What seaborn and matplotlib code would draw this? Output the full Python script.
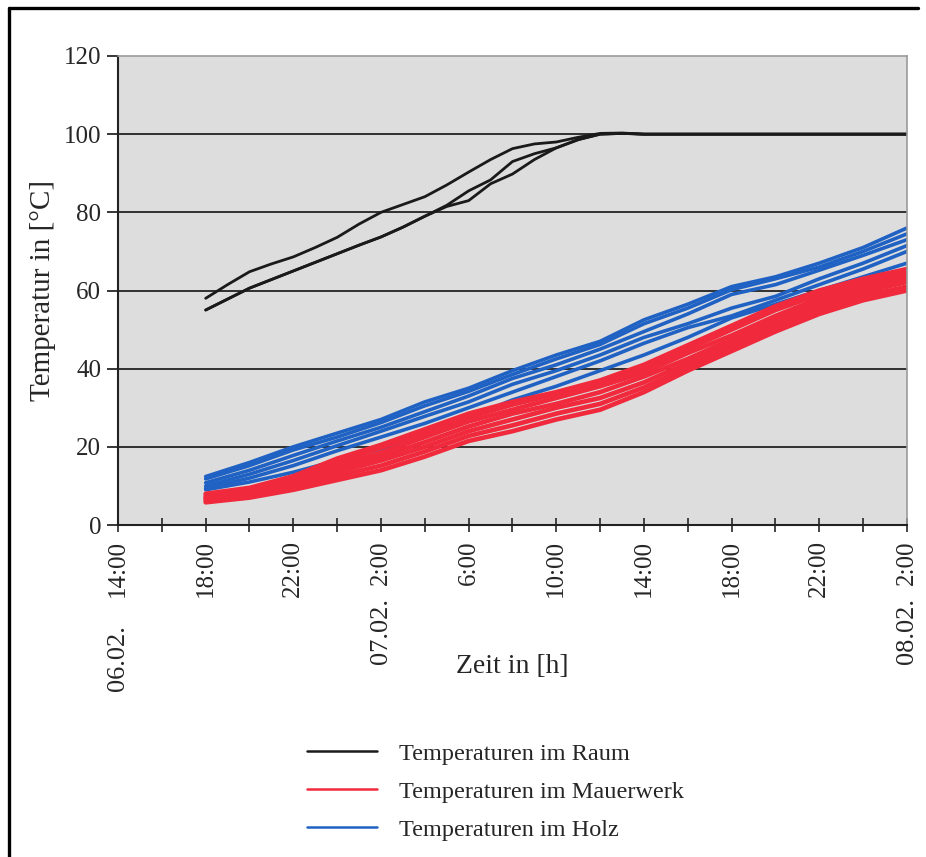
import pandas as pd
import numpy as np
import matplotlib
matplotlib.use('Agg')
import matplotlib.pyplot as plt
import matplotlib.transforms as mtransforms
from matplotlib.lines import Line2D
import seaborn as sns

# ZEITACHSE: Stunden ab 06.02. 14:00
zeit_raum = list(range(4, 37))          # stuendlich, 18:00 bis 2:00
zeit_bauteil = list(range(4, 37, 2))    # alle 2 Stunden

# TEMPERATUREN IM RAUM (3 Messstellen)
raum_1 = [58, 61.5, 64.8, 66.8, 68.6, 71, 73.6, 77, 80, 82, 84, 87, 90.3, 93.5, 96.3, 97.5,
          98, 99.2, 100.2, 100.3, 100, 100, 100, 100, 100, 100, 100, 100, 100, 100, 100, 100, 100]
raum_2 = [55, 57.8, 60.6, 62.8, 65, 67.2, 69.4, 71.6, 73.7, 76.2, 79, 81.8, 85.5, 88.3, 93, 95,
          96.5, 98.6, 100, 100.2, 100, 100, 100, 100, 100, 100, 100, 100, 100, 100, 100, 100, 100]
raum_3 = [55, 57.8, 60.6, 62.8, 65, 67.2, 69.4, 71.6, 73.7, 76.2, 79, 81.5, 83, 87.3, 89.8, 93.5,
          96.5, 98.6, 100, 100.2, 100, 100, 100, 100, 100, 100, 100, 100, 100, 100, 100, 100, 100]

# TEMPERATUREN IM MAUERWERK
mauer_1 = [8.0, 9.5, 12.5, 17.0, 20.5, 24.5, 28.5, 31.5, 34.0, 37.0, 41.0, 46.0, 51.0, 56.0, 60.0, 63.0, 65.5]
mauer_2 = [7.6, 9.2, 12.0, 16.0, 19.8, 23.5, 27.5, 30.8, 33.5, 36.5, 40.0, 45.0, 50.0, 55.0, 59.0, 62.2, 64.8]
mauer_3 = [7.2, 8.8, 11.5, 15.2, 18.5, 22.5, 26.5, 29.5, 32.5, 35.5, 39.0, 44.0, 48.5, 53.5, 58.0, 61.5, 64.0]
mauer_4 = [6.9, 8.4, 11.0, 14.2, 17.5, 21.2, 25.2, 28.5, 31.0, 34.0, 38.0, 42.5, 47.5, 52.5, 57.0, 60.5, 63.2]
mauer_5 = [6.6, 8.0, 10.4, 13.5, 16.5, 20.0, 24.0, 27.0, 30.0, 32.5, 36.5, 41.5, 46.5, 51.5, 56.0, 59.5, 62.2]
mauer_6 = [6.2, 7.5, 9.8, 12.5, 15.2, 18.8, 22.8, 25.5, 28.5, 31.0, 35.2, 40.5, 45.5, 50.5, 55.0, 58.5, 61.0]
mauer_7 = [5.8, 7.0, 9.0, 11.5, 14.0, 17.5, 21.5, 24.0, 27.0, 29.5, 34.0, 39.5, 44.5, 49.5, 54.0, 57.5, 60.0]

# TEMPERATUREN IM HOLZ
holz_1 = [12.4, 16.0, 20.0, 23.5, 27.0, 31.5, 35.0, 39.5, 43.5, 47.0, 52.5, 56.5, 61.0, 63.5, 67.0, 71.0, 76.0]
holz_2 = [11.8, 15.2, 19.2, 22.5, 26.2, 30.5, 34.2, 38.5, 42.5, 46.2, 51.5, 55.5, 60.2, 63.0, 66.0, 70.0, 74.5]
holz_3 = [10.8, 14.0, 17.8, 21.5, 25.0, 29.0, 33.0, 37.5, 41.0, 45.0, 49.5, 54.0, 59.0, 61.5, 65.2, 69.0, 73.0]
holz_4 = [10.0, 13.0, 16.5, 20.3, 24.0, 27.8, 31.5, 36.0, 39.5, 43.5, 48.0, 51.5, 55.5, 58.5, 63.0, 67.0, 71.5]
holz_5 = [9.4, 12.0, 15.2, 19.0, 22.5, 26.0, 30.0, 34.0, 38.0, 42.0, 46.5, 50.5, 53.5, 57.5, 61.5, 65.5, 70.0]
holz_6 = [9.0, 11.0, 13.5, 16.5, 19.5, 23.5, 27.5, 32.0, 35.5, 39.5, 43.5, 48.0, 53.0, 56.5, 60.0, 63.5, 67.0]

# BESCHRIFTUNGEN
tick_pos = list(range(0, 37, 4))
tick_labels = ['14:00', '18:00', '22:00', '2:00', '6:00', '10:00', '14:00', '18:00', '22:00', '2:00']
datum_pos = [0, 12, 36]
datum_labels = ['06.02.', '07.02.', '08.02.']
gruppen = ['Temperaturen im Raum', 'Temperaturen im Mauerwerk', 'Temperaturen im Holz']
farben = {'Temperaturen im Raum': '#1a1a1a',
          'Temperaturen im Mauerwerk': '#f02a3c',
          'Temperaturen im Holz': '#1f62c4'}

# LONG-FORMAT FUER SEABORN
zeilen = []
for name, werte in [('raum_1', raum_1), ('raum_2', raum_2), ('raum_3', raum_3)]:
    for t, v in zip(zeit_raum, werte):
        zeilen.append((gruppen[0], name, t, v))
for name, werte in [('mauer_1', mauer_1), ('mauer_2', mauer_2), ('mauer_3', mauer_3), ('mauer_4', mauer_4),
                    ('mauer_5', mauer_5), ('mauer_6', mauer_6), ('mauer_7', mauer_7)]:
    for t, v in zip(zeit_bauteil, werte):
        zeilen.append((gruppen[1], name, t, v))
for name, werte in [('holz_1', holz_1), ('holz_2', holz_2), ('holz_3', holz_3),
                    ('holz_4', holz_4), ('holz_5', holz_5), ('holz_6', holz_6)]:
    for t, v in zip(zeit_bauteil, werte):
        zeilen.append((gruppen[2], name, t, v))
df = pd.DataFrame(zeilen, columns=['gruppe', 'linie', 'zeit', 'temp'])

sns.set_style('white')
plt.rcParams['font.family'] = ['Liberation Serif', 'DejaVu Serif']

fig = plt.figure(figsize=(9.26, 8.57), dpi=100)
ax = fig.add_axes([118 / 926, 1 - 525 / 857, (907 - 118) / 926, (525 - 56) / 857])
ax.set_facecolor('#dddddd')

# Bauteile zuerst, Raum darueber
sns.lineplot(data=df[df['gruppe'] == gruppen[2]], x='zeit', y='temp', units='linie', estimator=None,
             color=farben[gruppen[2]], linewidth=2.6, ax=ax, legend=False)
sns.lineplot(data=df[df['gruppe'] == gruppen[1]], x='zeit', y='temp', units='linie', estimator=None,
             color=farben[gruppen[1]], linewidth=3.3, ax=ax, legend=False)
sns.lineplot(data=df[df['gruppe'] == gruppen[0]], x='zeit', y='temp', units='linie', estimator=None,
             color=farben[gruppen[0]], linewidth=2.0, ax=ax, legend=False)

ax.set_xlim(0, 36)
ax.set_ylim(0, 120)
ax.set_yticks(range(0, 121, 20))
ax.set_xticks(tick_pos)
ax.set_xticklabels(tick_labels, rotation=90, fontsize=18)
ax.set_xticks(range(0, 37, 2), minor=True)
ax.tick_params(axis='y', labelsize=18, length=8, width=1.3, direction='out', left=True, pad=4)
ax.tick_params(axis='x', which='both', length=10, width=1.2, direction='inout', bottom=True, pad=6)

for y in range(20, 101, 20):
    ax.axhline(y, color='#222222', linewidth=1.3, zorder=0.5)

ax.set_ylabel('Temperatur in [°C]', fontsize=21, labelpad=6)
ax.set_xlabel('Zeit in [h]', fontsize=20)
ax.xaxis.set_label_coords(0.5, -0.275)

for s in ['top', 'right']:
    ax.spines[s].set_color('#9a9a9a')
    ax.spines[s].set_linewidth(1.2)
for s in ['left', 'bottom']:
    ax.spines[s].set_color('#222222')
    ax.spines[s].set_linewidth(1.5)

# Datum unter den Uhrzeiten
trans = mtransforms.blended_transform_factory(ax.transData, fig.transFigure)
datum_y = [1 - 625 / 857, 1 - 598 / 857, 1 - 598 / 857]
for x, lab, y in zip(datum_pos, datum_labels, datum_y):
    ax.text(x, y, lab, rotation=90, ha='center', va='top', fontsize=19, transform=trans)

# Legende
handles = [Line2D([0], [0], color=farben[g], linewidth=1.8) for g in gruppen]
fig.legend(handles, gruppen, loc='upper left', bbox_to_anchor=(285 / 926, 1 - 721 / 857),
           frameon=False, fontsize=17.5, handlelength=2.9, handletextpad=0.9, labelspacing=0.65)

# Rahmen links und oben
fig.add_artist(Line2D([9 / 926, 9 / 926], [0, 1 - 8 / 857], color='black', linewidth=2.4,
                      transform=fig.transFigure))
fig.add_artist(Line2D([9 / 926, 918 / 926], [1 - 8 / 857, 1 - 8 / 857], color='black', linewidth=2.4,
                      transform=fig.transFigure))

fig.savefig('out.png', dpi=100, facecolor='white')
